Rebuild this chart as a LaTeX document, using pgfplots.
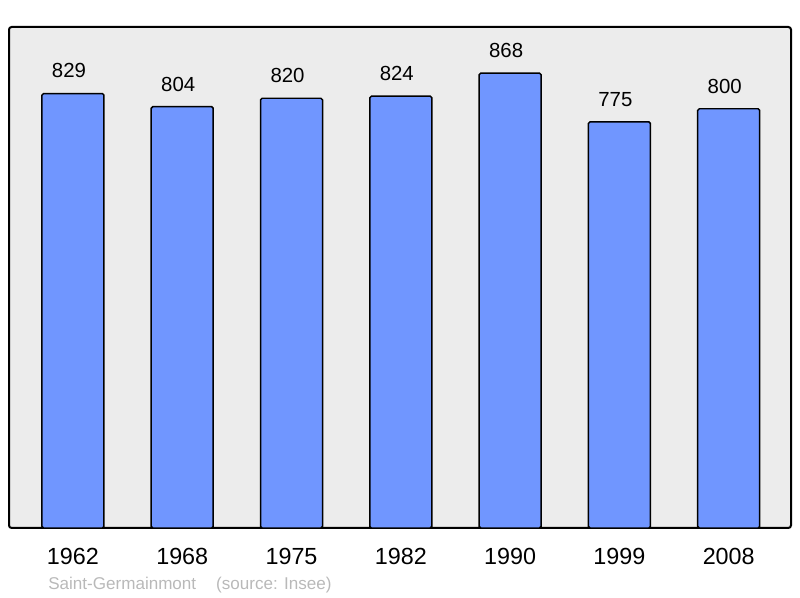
\documentclass[border=0pt]{standalone}
\usepackage{pgfplots}
\pgfplotsset{compat=1.18}
\usepackage{fontspec}
\setmainfont{Liberation Sans}
\definecolor{barblue}{RGB}{112,150,255}
\definecolor{bggray}{RGB}{236,236,236}
\definecolor{srcgray}{RGB}{185,185,185}
\begin{document}
\begin{tikzpicture}[x=0.75pt,y=0.75pt]
\useasboundingbox (0,0) rectangle (800,598);
\begin{axis}[
  at={(6.75pt,52.5pt)}, anchor=south west,
  scale only axis, width=586.5pt, height=375.75pt,
  xmin=-0.585, xmax=6.57, ymin=0, ymax=956,
  axis background/.style={fill=bggray},
  axis line style={line width=1.5pt, rounded corners=2pt},
  ytick=\empty,
  xtick=data,
  xticklabels={1962,1968,1975,1982,1990,1999,2008},
  major tick length=0pt,
  xticklabel style={font=\fontsize{17.5}{17.5}\selectfont, inner sep=0pt, anchor=north, yshift=-15pt},
  /pgf/number format/assume math mode=true,
  ybar, bar width=46.5pt,
  nodes near coords,
  every node near coord/.style={font=\fontsize{15.3}{15.3}\selectfont, inner sep=0pt, anchor=south, yshift=11pt, xshift=-3pt, black},
  clip=false,
]
\addplot[fill=barblue, draw=black, line width=1.1pt, rounded corners=1.2pt] coordinates {
(0,829) (1,804) (2,820) (3,824) (4,868) (5,775) (6,800)};
\end{axis}
\node[anchor=base west, inner sep=0pt, text=srcgray, font=\fontsize{12.8}{12.8}\selectfont] at (48,8) {Saint-Germainmont\hspace{15pt}(source: Insee)};
\end{tikzpicture}
\end{document}
